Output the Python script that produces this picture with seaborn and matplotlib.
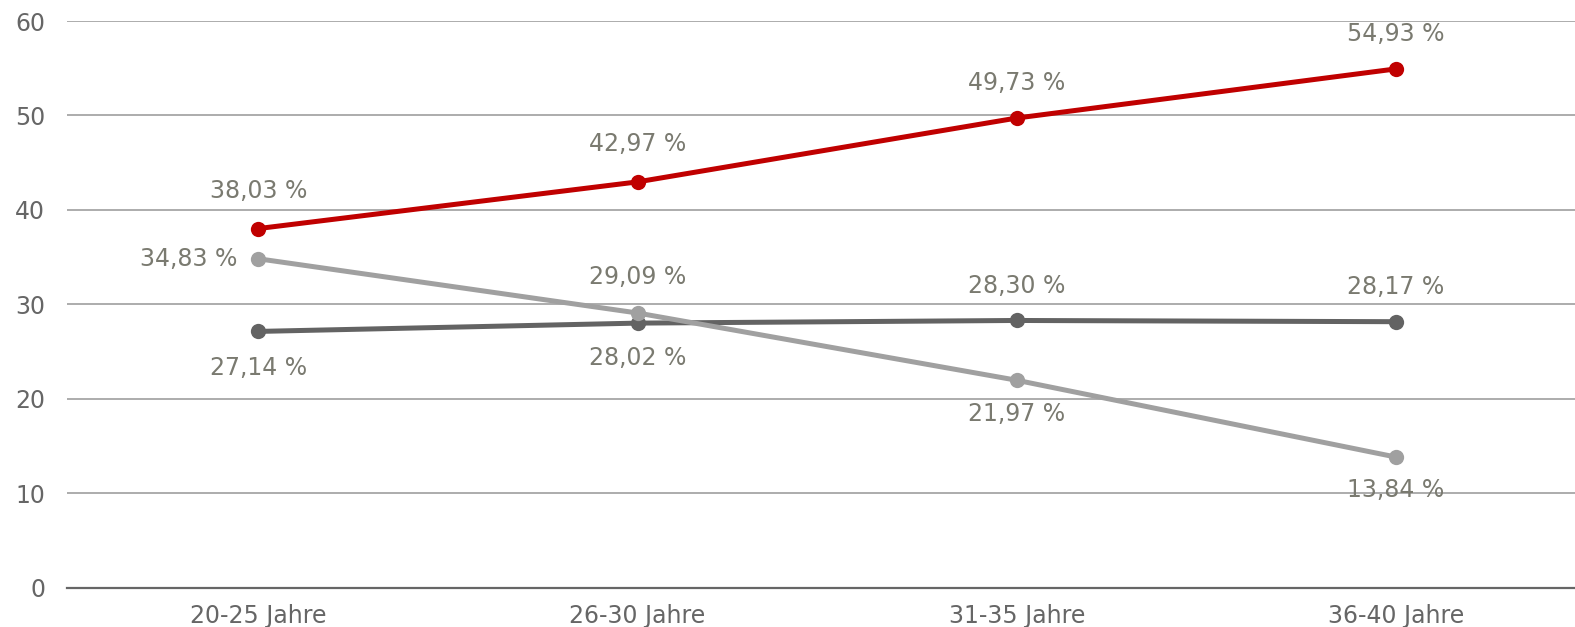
import matplotlib
matplotlib.use("Agg")
import matplotlib.pyplot as plt
import seaborn as sns
import pandas as pd

# Daten
categories = ["20-25 Jahre", "26-30 Jahre", "31-35 Jahre", "36-40 Jahre"]
series_red = [38.03, 42.97, 49.73, 54.93]
series_dark = [27.14, 28.02, 28.30, 28.17]
series_light = [34.83, 29.09, 21.97, 13.84]
series_names = ["rot", "dunkelgrau", "hellgrau"]
y_ticks = [0, 10, 20, 30, 40, 50, 60]

colors = {"rot": "#C00000", "dunkelgrau": "#636363", "hellgrau": "#A0A0A0"}
# Position der Beschriftung je Punkt (dx, dy in Punkten)
label_offsets = {
    "rot": [(0, 27), (0, 27), (0, 25), (0, 25)],
    "dunkelgrau": [(0, -26), (0, -25), (0, 25), (0, 25)],
    "hellgrau": [(-15, 0), (0, 26), (0, -24), (0, -24)],
}


def build_frame():
    rows = []
    for name, values in zip(series_names, [series_red, series_dark, series_light]):
        for i, (cat, v) in enumerate(zip(categories, values)):
            rows.append({"Alter": cat, "pos": i, "Wert": v, "Reihe": name})
    return pd.DataFrame(rows)


def main():
    df = build_frame()
    sns.set_style("white")
    plt.rcParams["font.family"] = ["DejaVu Sans"]

    fig = plt.figure(figsize=(15.75, 6.27), dpi=100)
    ax = fig.add_axes([0.0427, 0.0625, 0.9573, 0.904])

    for y in y_ticks[1:]:
        ax.axhline(y, color="#A6A6A6", lw=1.3, zorder=0)

    sns.lineplot(data=df, x="pos", y="Wert", hue="Reihe", palette=colors,
                 hue_order=series_names, lw=3.6, marker="o", markersize=11,
                 markeredgewidth=0, legend=False, ax=ax)

    for name in series_names:
        sub = df[df["Reihe"] == name]
        for (_, r), off in zip(sub.iterrows(), label_offsets[name]):
            label = f"{r['Wert']:.2f}".replace(".", ",") + " %"
            ha = "right" if off[0] < 0 else "center"
            ax.annotate(label, (r["pos"], r["Wert"]), xytext=off,
                        textcoords="offset points", ha=ha, va="center",
                        fontsize=17, color="#7A7A70")

    ax.set_xlim(-0.504, 3.472)
    ax.set_ylim(0, 60)
    ax.set_xticks(range(len(categories)))
    ax.set_xticklabels(categories)
    ax.set_yticks(y_ticks)
    ax.tick_params(axis="both", length=0, labelsize=17, colors="#666666")
    ax.tick_params(axis="x", labelsize=17, pad=12)
    ax.tick_params(axis="y", pad=16)
    ax.set_xlabel("")
    ax.set_ylabel("")
    for side in ["top", "right", "left"]:
        ax.spines[side].set_visible(False)
    ax.spines["bottom"].set_color("#666666")
    ax.spines["bottom"].set_linewidth(1.6)

    fig.savefig("out.png", dpi=100)
    plt.close(fig)


if __name__ == "__main__":
    main()
